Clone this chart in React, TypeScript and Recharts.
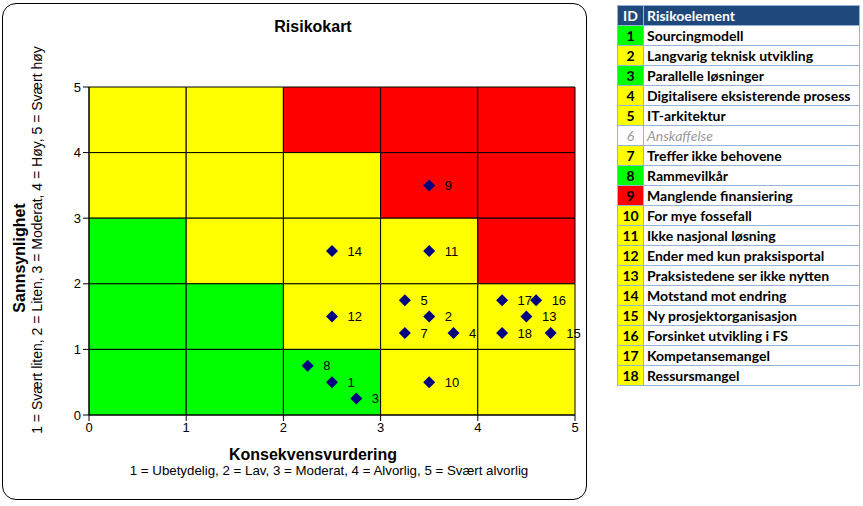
import {
  ScatterChart,
  Scatter,
  XAxis,
  YAxis,
  ReferenceArea,
  LabelList,
} from "recharts";

// risk points: id, consequence (x), probability (y)
const ids = [1, 2, 3, 4, 5, 7, 8, 9, 10, 11, 12, 13, 14, 15, 16, 17, 18];
const consequence = [2.5, 3.5, 2.75, 3.75, 3.25, 3.25, 2.25, 3.5, 3.5, 3.5, 2.5, 4.5, 2.5, 4.75, 4.6, 4.25, 4.25];
const probability = [0.5, 1.5, 0.25, 1.25, 1.75, 1.25, 0.75, 3.5, 0.5, 2.5, 1.5, 1.5, 2.5, 1.25, 1.75, 1.75, 1.25];

const axisTicks = [0, 1, 2, 3, 4, 5];

// matrix cell colours, top row (4-5) first
const cellColors = [
  ["Y", "Y", "R", "R", "R"],
  ["Y", "Y", "Y", "R", "R"],
  ["G", "Y", "Y", "Y", "R"],
  ["G", "G", "Y", "Y", "Y"],
  ["G", "G", "G", "Y", "Y"],
];

// table on the right
const tableIds = [1, 2, 3, 4, 5, 6, 7, 8, 9, 10, 11, 12, 13, 14, 15, 16, 17, 18];
const tableNames = [
  "Sourcingmodell",
  "Langvarig teknisk utvikling",
  "Parallelle løsninger",
  "Digitalisere eksisterende prosess",
  "IT-arkitektur",
  "Anskaffelse",
  "Treffer ikke behovene",
  "Rammevilkår",
  "Manglende finansiering",
  "For mye fossefall",
  "Ikke nasjonal løsning",
  "Ender med kun praksisportal",
  "Praksistedene ser ikke nytten",
  "Motstand mot endring",
  "Ny prosjektorganisasjon",
  "Forsinket utvikling i FS",
  "Kompetansemangel",
  "Ressursmangel",
];
const tableColors = ["G", "Y", "G", "Y", "Y", "W", "Y", "G", "R", "Y", "Y", "Y", "Y", "Y", "Y", "Y", "Y", "Y"];

const palette: Record<string, string> = {
  G: "#00FF00",
  Y: "#FFFF00",
  R: "#FF0000",
  W: "#FFFFFF",
};

const arial = "'Liberation Sans', Arial, sans-serif";

const points = ids.map((id, i) => ({ id, x: consequence[i], y: probability[i] }));

const Diamond = (props: any) => {
  const { cx, cy } = props;
  const r = 6;
  return (
    <polygon
      points={`${cx},${cy - r} ${cx + r},${cy} ${cx},${cy + r} ${cx - r},${cy}`}
      fill="#000080"
    />
  );
};

const RiskChart = () => (
  <ScatterChart
    width={590}
    height={506}
    margin={{ top: 87, right: 15, left: 59, bottom: 61 }}
  >
    {cellColors.map((row, r) =>
      row.map((c, col) => (
        <ReferenceArea
          key={`${r}-${col}`}
          x1={col}
          x2={col + 1}
          y1={4 - r}
          y2={5 - r}
          fill={palette[c]}
          fillOpacity={1}
          stroke="#000"
          strokeWidth={1}
        />
      ))
    )}
    <XAxis
      type="number"
      dataKey="x"
      domain={[0, 5]}
      ticks={axisTicks}
      height={30}
      tick={{ fontSize: 13, fill: "#000", fontFamily: arial }}
      stroke="#000"
    />
    <YAxis
      type="number"
      dataKey="y"
      domain={[0, 5]}
      ticks={axisTicks}
      width={30}
      tick={{ fontSize: 13, fill: "#000", fontFamily: arial }}
      stroke="#000"
    />
    <Scatter data={points} shape={<Diamond />} isAnimationActive={false}>
      <LabelList
        dataKey="id"
        position="right"
        offset={11}
        fill="#000"
        fontSize={13}
        fontFamily={arial}
      />
    </Scatter>
  </ScatterChart>
);

const RiskTable = () => (
  <table
    style={{
      position: "absolute",
      left: 617,
      top: 5,
      width: 243,
      borderCollapse: "collapse",
      fontFamily: "Lato, 'Open Sans', sans-serif",
      fontSize: 14,
      fontWeight: 700,
    }}
  >
    <tbody>
      <tr style={{ height: 20, background: "#1F497D", color: "#fff" }}>
        <td style={{ width: 25, textAlign: "center", border: "1px solid #95B3D7", padding: 0 }}>ID</td>
        <td style={{ paddingLeft: 3, border: "1px solid #95B3D7" }}>Risikoelement</td>
      </tr>
      {tableIds.map((id, i) => {
        const muted = tableColors[i] === "W";
        return (
          <tr key={id} style={{ height: 20 }}>
            <td
              style={{
                textAlign: "center",
                padding: 0,
                background: palette[tableColors[i]],
                border: "1px solid #95B3D7",
                color: muted ? "#999" : "#000",
                fontStyle: muted ? "italic" : "normal",
                fontWeight: muted ? 400 : 700,
              }}
            >
              {id}
            </td>
            <td
              style={{
                paddingLeft: 3,
                paddingTop: 0,
                paddingBottom: 0,
                border: "1px solid #95B3D7",
                whiteSpace: "nowrap",
                color: muted ? "#999" : "#000",
                fontStyle: muted ? "italic" : "normal",
                fontWeight: muted ? 400 : 700,
              }}
            >
              {tableNames[i]}
            </td>
          </tr>
        );
      })}
    </tbody>
  </table>
);

export default function App() {
  return (
    <div
      style={{
        position: "absolute",
        left: 0,
        top: 0,
        width: 863,
        height: 506,
        background: "#fff",
        overflow: "hidden",
      }}
    >
      <div
        style={{
          position: "absolute",
          left: 2,
          top: 3,
          width: 583,
          height: 495,
          border: "1px solid #000",
          borderRadius: 14,
        }}
      />
      <div style={{ position: "absolute", left: 0, top: 0 }}>
        <RiskChart />
      </div>
      <div
        style={{
          position: "absolute",
          left: 0,
          width: 626,
          top: 18,
          textAlign: "center",
          fontFamily: arial,
          fontWeight: 700,
          fontSize: 16,
        }}
      >
        Risikokart
      </div>
      <div
        style={{
          position: "absolute",
          left: 0,
          width: 626,
          top: 446,
          textAlign: "center",
          fontFamily: arial,
          fontWeight: 700,
          fontSize: 16,
        }}
      >
        Konsekvensvurdering
      </div>
      <div
        style={{
          position: "absolute",
          left: 0,
          width: 658,
          top: 463,
          textAlign: "center",
          fontFamily: arial,
          fontSize: 13.3,
        }}
      >
        1 = Ubetydelig, 2 = Lav, 3 = Moderat, 4 = Alvorlig, 5 = Svært alvorlig
      </div>
      <div
        style={{
          position: "absolute",
          left: 20 - 200,
          top: 258 - 10,
          width: 400,
          height: 20,
          lineHeight: "20px",
          textAlign: "center",
          transform: "rotate(-90deg)",
          fontFamily: arial,
          fontWeight: 700,
          fontSize: 16,
        }}
      >
        Sannsynlighet
      </div>
      <div
        style={{
          position: "absolute",
          left: 37 - 250,
          top: 240 - 8,
          width: 500,
          height: 16,
          lineHeight: "16px",
          textAlign: "center",
          transform: "rotate(-90deg)",
          fontFamily: arial,
          fontSize: 14,
        }}
      >
        1 = Svært liten, 2 = Liten, 3 = Moderat, 4 = Høy, 5 = Svært høy
      </div>
      <RiskTable />
    </div>
  );
}
